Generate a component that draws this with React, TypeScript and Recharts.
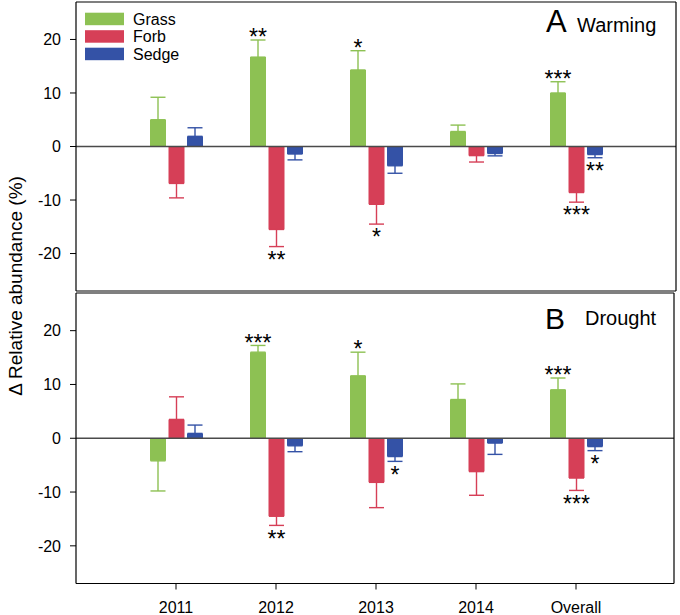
import React from 'react';
import { BarChart, Bar, XAxis, YAxis, ErrorBar, ReferenceLine, LabelList, Legend } from 'recharts';

const categories = ['2011', '2012', '2013', '2014', 'Overall'];
const yTicks = [-20, -10, 0, 10, 20];
const seriesNames = ['Grass', 'Forb', 'Sedge'];
const seriesColors = ['#8DC153', '#D63F57', '#3452A6'];

const warmGrass = [5.0, 16.7, 14.3, 2.8, 10.0];
const warmGrassErr = [4.2, 3.2, 3.6, 1.2, 2.1];
const warmForb = [-6.9, -15.5, -10.8, -1.7, -8.6];
const warmForbErr = [2.7, 3.2, 3.7, 1.2, 1.8];
const warmSedge = [1.9, -1.4, -3.6, -1.3, -1.5];
const warmSedgeErr = [1.6, 1.1, 1.4, 0.45, 0.6];
const warmGrassSig = ['', '**', '*', '', '***'];
const warmForbSig = ['', '**', '*', '', '***'];
const warmSedgeSig = ['', '', '', '', '**'];

const droughtGrass = [-4.2, 16.0, 11.6, 7.2, 9.0];
const droughtGrassErr = [5.6, 1.25, 4.4, 2.9, 2.2];
const droughtForb = [3.5, -14.5, -8.2, -6.2, -7.4];
const droughtForbErr = [4.2, 1.7, 4.7, 4.4, 2.3];
const droughtSedge = [0.9, -1.4, -3.4, -0.9, -1.55];
const droughtSedgeErr = [1.55, 1.1, 0.9, 2.1, 0.75];
const droughtGrassSig = ['', '***', '*', '', '***'];
const droughtForbSig = ['', '**', '', '', '***'];
const droughtSedgeSig = ['', '', '*', '', '*'];

const FONT = "Arial, 'Liberation Sans', Helvetica, sans-serif";

type Series = { vals: number[]; errs: number[]; sig: string[] };

const buildRows = (s: Series[]) =>
  categories.map((cat, i) => {
    const row: any = { cat };
    s.forEach((ser, k) => {
      const v = ser.vals[i];
      const e = ser.errs[i];
      row['v' + k] = v;
      row['e' + k] = v >= 0 ? [0, e] : [e, 0];
    });
    return row;
  });

const makeStarContent = (ser: Series) => (props: any) => {
  const index = props.index;
  if (index == null) return null;
  const s = ser.sig[index];
  if (!s) return null;
  const vb = props.viewBox || {};
  const x = vb.x ?? props.x;
  const y = vb.y ?? props.y;
  const w = vb.width ?? props.width;
  const h = vb.height ?? props.height;
  const v = ser.vals[index];
  const e = ser.errs[index];
  if (!v || !h) return null;
  const top = Math.min(y, y + h);
  const bot = Math.max(y, y + h);
  const ppu = Math.abs(h) / Math.abs(v);
  const cx = x + w / 2;
  let baseline: number;
  if (v >= 0) {
    const capY = top - e * ppu;
    baseline = capY - 8 + 13.3;
  } else {
    const capY = bot + e * ppu;
    baseline = capY + 8 + 13.3;
  }
  return (
    <text x={cx} y={baseline} textAnchor="middle" fontSize={23} fill="#000" fontFamily={FONT}>
      {s}
    </text>
  );
};

const LegendBox = () => (
  <svg width={140} height={56} style={{ display: 'block', overflow: 'visible' }}>
    {seriesNames.map((n, i) => (
      <g key={i}>
        <rect x={0} y={0.7 + i * 17.5} width={39} height={12.5} fill={seriesColors[i]} />
        <text x={48} y={12.9 + i * 17.5} fontSize={16} fill="#000" fontFamily={FONT}>
          {n}
        </text>
      </g>
    ))}
  </svg>
);

type PanelProps = {
  series: Series[];
  height: number;
  margin: any;
  xHeight: number;
  padding: any;
  showXTicks: boolean;
  showLegend: boolean;
  tickMargin: number;
};

const Panel = ({ series, height, margin, xHeight, padding, showXTicks, showLegend, tickMargin }: PanelProps) => {
  const rows = buildRows(series);
  return (
    <BarChart width={680} height={height} data={rows} margin={margin} barGap={2.5} barSize={16}>
      <XAxis
        dataKey="cat"
        xAxisId="main"
        orientation="bottom"
        height={xHeight}
        padding={padding}
        axisLine={{ stroke: '#000', strokeWidth: 1.2 }}
        tickLine={showXTicks ? { stroke: '#000', strokeWidth: 1 } : false}
        tick={showXTicks ? { fontSize: 16, fill: '#000', fontFamily: FONT } : false}
        tickSize={6}
        tickMargin={tickMargin}
        interval={0}
      />
      <XAxis
        dataKey="cat"
        xAxisId="top"
        orientation="top"
        height={1}
        padding={padding}
        axisLine={{ stroke: '#000', strokeWidth: 1.2 }}
        tickLine={false}
        tick={false}
      />
      <YAxis
        yAxisId="main"
        type="number"
        domain={[-27, 27]}
        ticks={yTicks}
        allowDataOverflow
        width={76}
        axisLine={{ stroke: '#000', strokeWidth: 1.2 }}
        tickLine={{ stroke: '#000', strokeWidth: 1 }}
        tickSize={6}
        tickMargin={9}
        tick={{ fontSize: 16, fill: '#000', fontFamily: FONT }}
        interval={0}
      />
      <YAxis
        yAxisId="right"
        orientation="right"
        type="number"
        domain={[-27, 27]}
        width={1}
        axisLine={{ stroke: '#000', strokeWidth: 1.2 }}
        tickLine={false}
        tick={false}
      />
      <ReferenceLine y={0} xAxisId="main" yAxisId="main" stroke="#4a4a4a" strokeWidth={1.5} />
      {series.map((ser, k) => (
        <Bar
          key={k}
          dataKey={'v' + k}
          name={seriesNames[k]}
          fill={seriesColors[k]}
          xAxisId="main"
          yAxisId="main"
          isAnimationActive={false}
        >
          <ErrorBar dataKey={'e' + k} width={7.5} stroke={seriesColors[k]} strokeWidth={1.4} direction="y" isAnimationActive={false} />
          <LabelList dataKey={'v' + k} content={makeStarContent(ser)} />
        </Bar>
      ))}
      {showLegend && (
        <Legend
          layout="vertical"
          align="center"
          verticalAlign="middle"
          wrapperStyle={{ left: 85, top: 12, width: 140, height: 56 }}
          content={() => <LegendBox />}
        />
      )}
    </BarChart>
  );
};

const warmSeries: Series[] = [
  { vals: warmGrass, errs: warmGrassErr, sig: warmGrassSig },
  { vals: warmForb, errs: warmForbErr, sig: warmForbSig },
  { vals: warmSedge, errs: warmSedgeErr, sig: warmSedgeSig },
];
const droughtSeries: Series[] = [
  { vals: droughtGrass, errs: droughtGrassErr, sig: droughtGrassSig },
  { vals: droughtForb, errs: droughtForbErr, sig: droughtForbSig },
  { vals: droughtSedge, errs: droughtSedgeErr, sig: droughtSedgeSig },
];

export default function App() {
  return (
    <div style={{ position: 'absolute', left: 0, top: 0, width: 680, height: 615, background: '#fff', fontFamily: FONT }}>
      <div style={{ position: 'absolute', left: 0, top: 0 }}>
        <Panel
          series={warmSeries}
          height={293}
          margin={{ top: 1, right: 3, bottom: 1, left: 0 }}
          xHeight={1}
          padding={{ left: 50, right: 50 }}
          showXTicks={false}
          showLegend={true}
          tickMargin={11}
        />
      </div>
      <div style={{ position: 'absolute', left: 0, top: 290 }}>
        <Panel
          series={droughtSeries}
          height={325}
          margin={{ top: 2, right: 5, bottom: 2, left: 0 }}
          xHeight={29.5}
          padding={{ left: 50, right: 48 }}
          showXTicks={true}
          showLegend={false}
          tickMargin={12}
        />
      </div>
      <svg width={680} height={615} style={{ position: 'absolute', left: 0, top: 0, pointerEvents: 'none' }}>
        <text x={546} y={32.3} fontSize={31} fill="#000" fontFamily={FONT}>A</text>
        <text x={577} y={32.3} fontSize={20} fill="#000" fontFamily={FONT}>Warming</text>
        <text x={545} y={329} fontSize={30} fill="#000" fontFamily={FONT}>B</text>
        <text x={585} y={325} fontSize={20} fill="#000" fontFamily={FONT}>Drought</text>
        <text
          x={21.5}
          y={286}
          fontSize={19}
          fill="#000"
          fontFamily={FONT}
          textAnchor="middle"
          transform="rotate(-90 21.5 286)"
        >
          Δ Relative abundance (%)
        </text>
      </svg>
    </div>
  );
}
